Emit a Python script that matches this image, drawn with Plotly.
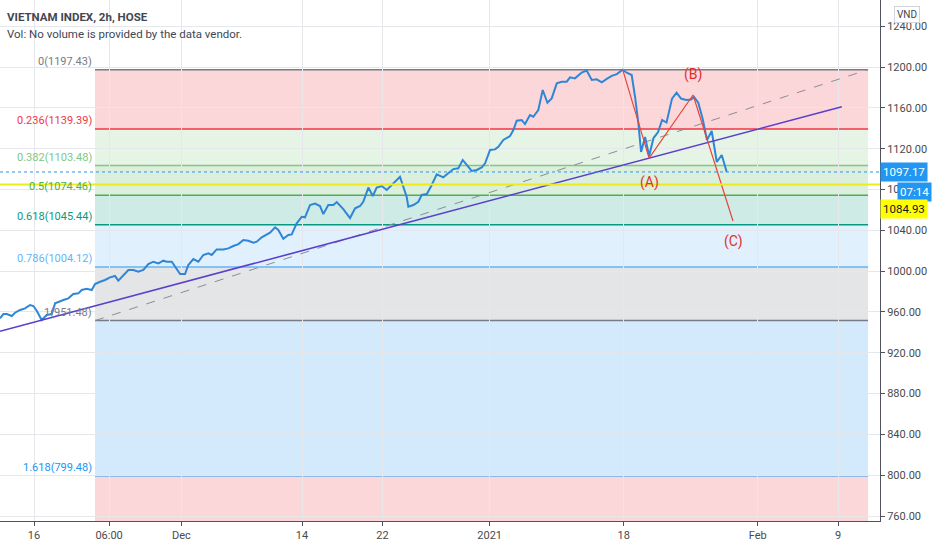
import plotly.graph_objects as go

# price series, x in trading days from Nov 16 (3 bars of 2h per day)
price_x = [-2.54, -2.29, -2.04, -1.66, -1.42, -1.04, -0.67, -0.30, -0.05, 0.20,
           0.57, 0.95, 1.32, 1.57, 2.19, 2.56, 2.93, 3.31, 3.56, 3.93,
           4.31, 4.55, 4.93, 5.30, 5.67, 6.04, 6.29, 6.66, 7.04, 7.41,
           7.78, 8.16, 8.53, 8.90, 9.28, 9.65, 9.90, 10.28, 10.65, 10.90,
           11.27, 11.51, 11.89, 12.26, 12.63, 13.01, 13.26, 13.63, 14.13, 14.50,
           14.87, 15.25, 15.62, 15.99, 16.37, 16.62, 16.99, 17.37, 17.61, 17.99,
           18.23, 18.60, 18.98, 19.23, 19.60, 19.98, 20.22, 20.60, 20.97, 21.34,
           21.59, 21.96, 22.34, 22.59, 23.08, 23.58, 23.96, 24.33, 24.57, 24.95,
           25.28, 25.57, 25.95, 26.32, 26.69, 27.31, 27.81, 27.93, 28.31, 28.68,
           28.93, 29.31, 29.68, 30.05, 30.54, 30.92, 31.29, 31.66, 31.99, 32.29,
           32.66, 33.04, 33.41, 33.66, 34.03, 34.40, 34.65, 35.02, 35.52, 35.77,
           36.02, 36.39, 36.64, 37.01, 37.26, 37.63, 37.96, 38.31, 38.63, 39.01,
           39.38, 39.75, 40.00, 40.37, 40.87, 41.24, 41.62, 41.99, 42.37, 42.74,
           43.11, 43.49, 43.93, 44.23, 44.60, 44.85, 45.10, 45.30, 45.60, 45.90,
           46.23, 46.57, 46.87, 47.20, 47.46, 47.61, 47.95, 48.28, 48.66, 49.03,
           49.25, 49.57, 49.90, 50.22, 50.57, 50.95, 51.32, 51.69]
price = [953.7, 957.9, 957.9, 956.0, 959.2, 961.9, 963.5, 966.8, 965.8, 961.2,
         952.1, 957.0, 957.9, 968.4, 971.7, 973.3, 977.5, 978.2, 981.5, 982.7,
         981.5, 987.3, 989.6, 991.3, 993.9, 995.2, 990.6, 996.2, 1001.1, 1001.1,
         999.4, 1001.1, 1006.9, 1009.2, 1007.6, 1010.2, 1009.2, 1009.2, 1002.7, 997.1,
         997.1, 1006.0, 1011.8, 1009.2, 1015.8, 1017.4, 1015.8, 1021.3, 1021.3, 1022.3,
         1024.6, 1026.5, 1030.5, 1029.8, 1027.8, 1028.8, 1033.1, 1035.4, 1037.6, 1042.9,
         1040.3, 1031.7, 1035.4, 1036.0, 1046.8, 1053.3, 1052.7, 1064.8, 1066.2, 1063.8,
         1055.9, 1064.8, 1064.8, 1067.7, 1060.8, 1052.0, 1061.5, 1063.8, 1068.0, 1081.9,
         1073.6, 1081.9, 1083.4, 1079.5, 1084.4, 1092.5, 1072.6, 1063.1, 1064.8, 1068.0,
         1074.6, 1075.5, 1084.4, 1094.8, 1091.9, 1095.8, 1100.0, 1100.7, 1108.9, 1104.0,
         1098.1, 1099.1, 1101.7, 1105.6, 1118.7, 1119.3, 1121.9, 1128.5, 1132.4, 1138.3,
         1147.4, 1148.1, 1144.1, 1153.0, 1151.3, 1157.9, 1177.5, 1165.0, 1169.3, 1184.0,
         1185.6, 1185.6, 1189.9, 1188.9, 1194.6, 1196.6, 1187.3, 1188.0, 1185.0, 1188.4,
         1191.4, 1193.1, 1197.43, 1194.4, 1192.2, 1170.9, 1144.8, 1116.7, 1131.4, 1112.8,
         1130.4, 1136.3, 1148.1, 1145.6, 1159.8, 1169.1, 1175.0, 1169.1, 1167.7, 1168.2,
         1170.6, 1165.0, 1149.0, 1128.5, 1137.3, 1106.9, 1113.8, 1097.17]

# fibonacci retracement
fib_ratios = ["0", "0.236", "0.382", "0.5", "0.618", "0.786", "1", "1.618", "2.618"]
fib_prices = [1197.43, 1139.39, 1103.48, 1074.46, 1045.44, 1004.12, 951.48, 799.48, 553.54]
fib_colors = ["#787b86", "#f23645", "#81c784", "#4caf50", "#089981",
              "#64b5f6", "#787b86", "#2196f3", "#f23645"]
fib_x = [4.55, 62.24]

# trend line and ABC wave
trend_x = [-2.54, 60.28]
trend_y = [941.1, 1161.1]
abc_x = [43.93, 45.90, 49.18, 52.16]
abc_y = [1197.43, 1110.8, 1172.6, 1049.1]
abc_labels = ["", "(A)", "(B)", "(C)"]
abc_label_y = [None, 1087.3, 1193.1, 1029.5]

last_price = 1097.17
marked_price = 1084.93

tick_days = [0, 5.6, 11, 20, 26, 34, 44, 54, 60]
tick_text = ["16", "06:00", "Dec", "14", "22", "2021", "18", "Feb", "9"]


def rgba(hex_color, a):
    h = hex_color.lstrip("#")
    return "rgba(%d,%d,%d,%s)" % (int(h[0:2], 16), int(h[2:4], 16), int(h[4:6], 16), a)


FONT = "Roboto, Arial, sans-serif"

fig = go.Figure()

shapes = []
annotations = []
# zones, filled with the colour of the lower level
for i in range(len(fib_prices) - 1):
    shapes.append(dict(type="rect", xref="x", yref="y", layer="below",
                       x0=fib_x[0], x1=fib_x[1], y0=fib_prices[i + 1], y1=fib_prices[i],
                       fillcolor=rgba(fib_colors[i + 1], 0.2), line_width=0))
for i in range(len(fib_prices) - 1):
    shapes.append(dict(type="line", xref="x", yref="y", layer="below",
                       x0=fib_x[0], x1=fib_x[1], y0=fib_prices[i], y1=fib_prices[i],
                       line=dict(color=fib_colors[i], width=1.5)))
    annotations.append(dict(x=fib_x[0], y=fib_prices[i], xref="x", yref="y",
                            text="%s(%.2f)" % (fib_ratios[i], fib_prices[i]),
                            showarrow=False, xanchor="right", yanchor="bottom",
                            xshift=-1, yshift=0,
                            font=dict(family=FONT, size=11, color=fib_colors[i])))

# last price (dotted) and marked level (yellow)
shapes.append(dict(type="line", xref="paper", yref="y", x0=0, x1=1,
                   y0=last_price, y1=last_price,
                   line=dict(color="#2196f3", width=1, dash="dot")))
shapes.append(dict(type="line", xref="paper", yref="y", x0=0, x1=1,
                   y0=marked_price, y1=marked_price,
                   line=dict(color="#ecec1a", width=2)))

# fib diagonal
fig.add_trace(go.Scatter(x=fib_x, y=[fib_prices[6], fib_prices[0]], mode="lines",
                         line=dict(color="#8a8d96", width=1, dash="dash"),
                         hoverinfo="skip", showlegend=False))
# price
fig.add_trace(go.Scatter(x=price_x, y=price, mode="lines",
                         line=dict(color="#2f86d6", width=2),
                         showlegend=False))
# trend line
fig.add_trace(go.Scatter(x=trend_x, y=trend_y, mode="lines",
                         line=dict(color="#5a3fcc", width=1.6),
                         hoverinfo="skip", showlegend=False))
# ABC
fig.add_trace(go.Scatter(x=abc_x, y=abc_y, mode="lines",
                         line=dict(color="#e8453c", width=1.2),
                         hoverinfo="skip", showlegend=False))
for i in range(1, 4):
    annotations.append(dict(x=abc_x[i], y=abc_label_y[i], xref="x", yref="y",
                            text=abc_labels[i], showarrow=False,
                            font=dict(family=FONT, size=14, color="#e0302a")))

# header texts
annotations.append(dict(x=0, y=1, xref="paper", yref="paper", xanchor="left", yanchor="top",
                        xshift=5, yshift=-8, showarrow=False,
                        text="<b>VIETNAM INDEX, 2h, HOSE</b>",
                        font=dict(family=FONT, size=11.5, color="#434651")))
annotations.append(dict(x=0, y=1, xref="paper", yref="paper", xanchor="left", yanchor="top",
                        xshift=5, yshift=-25, showarrow=False,
                        text="Vol: No volume is provided by the data vendor.",
                        font=dict(family=FONT, size=11.5, color="#434651")))
annotations.append(dict(x=1, y=1, xref="paper", yref="paper", xanchor="right", yanchor="top",
                        xshift=40, yshift=-6, showarrow=False, text="VND",
                        bgcolor="white", bordercolor="#d1d4dc", borderwidth=1, borderpad=2,
                        font=dict(family=FONT, size=10, color="#434651")))

# price scale labels
annotations.append(dict(x=1, y=last_price, xref="paper", yref="y", xanchor="left",
                        showarrow=False, text="1097.17", bgcolor="#2196f3", borderpad=2,
                        font=dict(family=FONT, size=11.5, color="white")))
annotations.append(dict(x=1, y=last_price, xref="paper", yref="y", xanchor="right",
                        xshift=52, yshift=-20, showarrow=False, text="07:14",
                        bgcolor="#2196f3", borderpad=2,
                        font=dict(family=FONT, size=11.5, color="white")))
annotations.append(dict(x=1, y=marked_price, xref="paper", yref="y", xanchor="left",
                        yshift=-25, showarrow=False, text="1084.93", bgcolor="#ffff00", borderpad=2,
                        font=dict(family=FONT, size=11.5, color="#131722")))

fig.update_layout(
    width=932, height=550,
    margin=dict(l=0, r=52, t=0, b=29),
    paper_bgcolor="white", plot_bgcolor="white",
    font=dict(family=FONT, size=11, color="#131722"),
    shapes=shapes, annotations=annotations,
    xaxis=dict(range=[-2.54, 63.13], tickvals=tick_days, ticktext=tick_text,
               showgrid=True, gridcolor="#e6e7ea", zeroline=False,
               showline=True, linecolor="#50535e", linewidth=1,
               ticks="outside", ticklen=4, tickcolor="#50535e",
               tickfont=dict(family=FONT, size=11, color="#4a4a4a")),
    yaxis=dict(range=[755.1, 1265.7], side="right", dtick=40, tick0=760,
               tickformat=".2f", showgrid=True, gridcolor="#e6e7ea", zeroline=False,
               showline=True, linecolor="#50535e", linewidth=1,
               ticks="outside", ticklen=4, tickcolor="#50535e",
               tickfont=dict(family=FONT, size=11, color="#4a4a4a")),
)

# drop the page's default body margin so the figure fills the window
fig.write_html("out.html", config={"displayModeBar": False},
               post_script="document.body.style.margin='0';")
